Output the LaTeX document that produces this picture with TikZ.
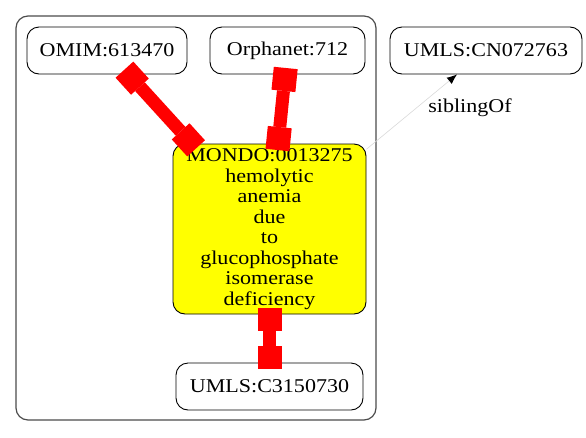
\documentclass[tikz,border=0pt]{standalone}
\usepackage{fontspec}
\setmainfont{Liberation Serif}[FakeStretch=1.13]
\usetikzlibrary{arrows.meta}
\definecolor{termyellow}{RGB}{255,255,0}
\definecolor{xrefred}{RGB}{255,0,0}
\begin{document}
\begin{tikzpicture}[x=1pt,y=-1pt,
        term/.style={draw, rounded corners=12pt, line width=0.9pt, inner sep=0pt,
            minimum height=47pt, font=\fontsize{19.5}{20.5}\selectfont},
        xref/.style={xrefred, line width=13pt,
            {Square[length=23pt,width=24pt,line width=0pt]}-{Square[length=23pt,width=24pt,line width=0pt]},
            shorten <=-6.5pt, shorten >=-6.5pt},
        sibling/.style={black!15, line width=0.6pt,
            -{Latex[length=10pt,width=8pt,black,line width=0pt]}}]
        \useasboundingbox (0,0) rectangle (586,437);

        % Cluster round the MONDO term and its cross references
        \draw[rounded corners=12pt, line width=1.2pt, black!70] (16,16) rectangle (376,420);

        % Terms
        \node[term, minimum width=160pt] (omim) at (107,50.5) {OMIM:613470};
        \node[term, minimum width=155pt] (orphanet) at (287.5,50.5) {Orphanet:712};
        \node[term, minimum width=192pt] (cn) at (486,50.5) {UMLS:CN072763};
        \node[term, fill=termyellow, minimum width=193pt, minimum height=170pt, align=center] (mondo) at (269.5,229)
            {MONDO:0013275\\hemolytic\\anemia\\due\\to\\glucophosphate\\isomerase\\deficiency};
        \node[term, minimum width=187pt] (umls) at (269.5,386.5) {UMLS:C3150730};

        % Cross references (box tips at both ends)
        \draw[xref] (omim) -- (mondo);
        \draw[xref] (orphanet) -- (mondo);
        \draw[xref] (mondo) -- (umls);

        % Sibling relation to the term outside the cluster
        \draw[sibling] (mondo) -- (cn);
        \node[font=\fontsize{19.5}{20.5}\selectfont] (siblabel) at (470,108) {siblingOf};

    \end{tikzpicture}
\end{document}
